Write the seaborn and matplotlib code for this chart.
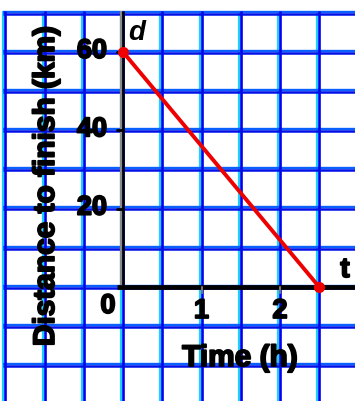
import matplotlib
matplotlib.use("Agg")
import matplotlib.pyplot as plt
import matplotlib.patheffects as pe
import seaborn as sns
import pandas as pd
import numpy as np

# Distance remaining to the finish over time
time_h = [0.0, 2.5]
distance_km = [60, 0]

y_ticks = [20, 40, 60]
y_tick_labels = ["20", "40", "60"]
x_ticks = [1, 2]
x_tick_labels = ["1", "2"]

sns.set_theme(style="white")
plt.rcParams["font.family"] = ["Liberation Sans", "DejaVu Sans"]

W, H = 355, 401
fig = plt.figure(figsize=(W / 100, H / 100), dpi=100)
ax = fig.add_axes([0, 0, 1, 1])

# pixel scale of the graph paper
px_per_h = 78.5
px_per_km = 3.917
x0_px, y0_px = 123, 287
ax.set_xlim(-x0_px / px_per_h, (W - x0_px) / px_per_h)
ax.set_ylim(-(H - y0_px) / px_per_km, y0_px / px_per_km)
ax.axis("off")

dx = 1.0 / px_per_h   # one pixel in hours
dy = 1.0 / px_per_km  # one pixel in km

grid_top = 70
grid_left = -1.5
xmax = ax.get_xlim()[1]
ymin = ax.get_ylim()[0]

# graph-paper grid: cyan/blue doubled lines
for t in np.arange(-1.5, 3.0, 0.5):
    ax.plot([t - 1.8 * dx, t - 1.8 * dx], [ymin, grid_top + 1.5 * dy], color="#19d0ff", lw=1.6, zorder=1, solid_capstyle="butt")
    ax.plot([t, t], [ymin, grid_top + 1.5 * dy], color="#0000ee", lw=1.9, zorder=1.1, solid_capstyle="butt")
for d in np.arange(-30, 71, 10):
    ax.plot([grid_left - 2.6 * dx, xmax], [d + 1.3 * dy, d + 1.3 * dy], color="#0a60ff", lw=1.7, zorder=1, solid_capstyle="butt")
    ax.plot([grid_left - 2.6 * dx, xmax], [d - 0.7 * dy, d - 0.7 * dy], color="#0010e6", lw=1.8, zorder=1.1, solid_capstyle="butt")

# axes
ax.plot([-1.8 * dx, -1.8 * dx], [0, grid_top + 1.5 * dy], color="#8a8a8a", lw=1.6, zorder=2, solid_capstyle="butt")
ax.plot([0, 0], [0, grid_top + 1.5 * dy], color="black", lw=1.8, zorder=2.1, solid_capstyle="butt")
ax.plot([-6 * dx, xmax], [0, 0], color="black", lw=3.4, zorder=2.1, solid_capstyle="butt")
for v in y_ticks:
    ax.plot([-6 * dx, 0], [v, v], color="black", lw=2.0, zorder=2.2)
for v in x_ticks:
    ax.plot([v, v], [0, -6 * dy], color="#777777", lw=1.5, zorder=2.2)

# distance line
df = pd.DataFrame({"t": time_h, "d": distance_km})
sns.lineplot(data=df, x="t", y="d", ax=ax, color="#ee0000", lw=2.8,
             marker="o", markersize=8, markeredgewidth=0, zorder=3, legend=False)
ax.set_xlim(-x0_px / px_per_h, (W - x0_px) / px_per_h)
ax.set_ylim(-(H - y0_px) / px_per_km, y0_px / px_per_km)
ax.axis("off")

heavy = [pe.withStroke(linewidth=1.3, foreground="black")]
bold = dict(fontweight="bold", color="black", zorder=4, path_effects=heavy)
for v, lab in zip(y_ticks, y_tick_labels):
    ax.text(-31 * dx, v + 1 * dy, lab, ha="center", va="center", fontsize=19.5, **bold)
for v, lab in zip(x_ticks, x_tick_labels):
    ax.text(v, -24 * dy, lab, ha="center", va="center", fontsize=19.5, **bold)
ax.text(-15 * dx, -19 * dy, "0", ha="center", va="center", fontsize=19.5, **bold)

ax.text(-77 * dx, (287 - 186) * dy, "Distance to finish (km)", rotation=90,
        ha="center", va="center", fontsize=21.5, **bold)
ax.text((240 - 123) * dx, -(358 - 287) * dy, "Time (h)",
        ha="center", va="center", fontsize=21.5, **bold)

ax.text(14 * dx, (287 - 33) * dy, "d", ha="center", va="center", fontsize=20,
        fontstyle="italic", fontweight="bold", color="black", zorder=4)
ax.text((345 - 123) * dx, (287 - 270) * dy, "t", ha="center", va="center",
        fontsize=20, fontweight="bold", color="black", zorder=4, path_effects=heavy)

fig.savefig("out.png", dpi=100, facecolor="white")
